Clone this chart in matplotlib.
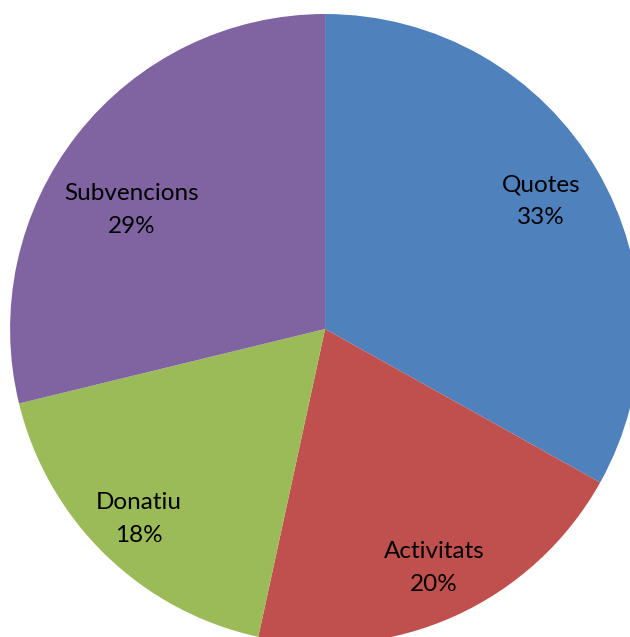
"""Pie chart of income sources"""
import matplotlib
matplotlib.use("Agg")
import matplotlib.pyplot as plt

#%% data
categories = ['Quotes', 'Activitats', 'Donatiu', 'Subvencions']
values = [33.1, 20.3, 17.8, 28.8]
pct_labels = ['33%', '20%', '18%', '29%']
colors = ['#4F81BD', '#C0504D', '#9BBB59', '#8064A2']
# label positions (in pie-radius units)
label_pos = [(0.686, 0.406), (0.346, -0.759), (-0.590, -0.603), (-0.613, 0.378)]

plt.rcParams['font.family'] = ['Lato', 'DejaVu Sans']

#%% plot
fig = plt.figure(figsize=(6.30, 6.37), dpi=100)
ax = fig.add_axes([0.516 - 0.5, 0.4835 - 0.4945, 1.0, 0.989])
wedges, _ = ax.pie(values, colors=colors, startangle=90, counterclock=False,
                   radius=1.0, wedgeprops=dict(linewidth=0))
for cat, pct, (x, y) in zip(categories, pct_labels, label_pos):
    ax.text(x, y, cat + '\n' + pct, ha='center', va='center',
            fontsize=17.5, linespacing=1.7)
ax.set_xlim(-1, 1)
ax.set_ylim(-1, 1)
ax.set_aspect('equal')
ax.axis('off')
fig.savefig('out.png', dpi=100)
